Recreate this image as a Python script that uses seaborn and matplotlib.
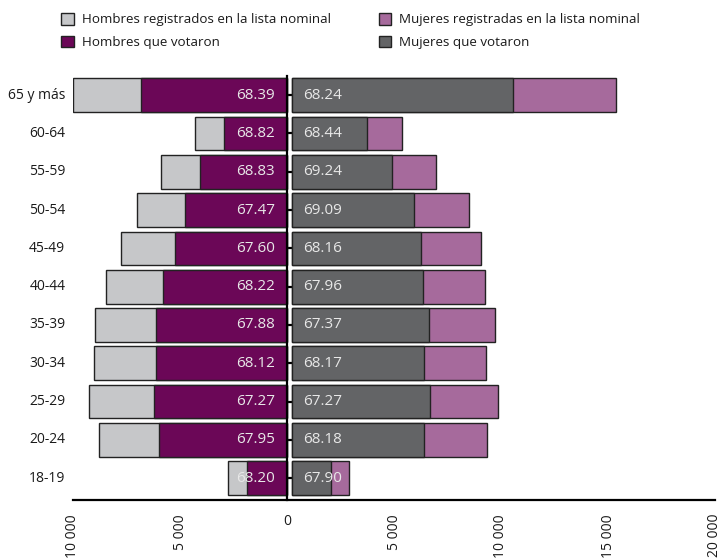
import numpy as np
import pandas as pd
import matplotlib
matplotlib.use("Agg")
import matplotlib.pyplot as plt
from matplotlib.patches import Patch
from matplotlib.transforms import blended_transform_factory
import seaborn as sns

# ---------------- data ----------------
categories = ["65 y más", "60-64", "55-59", "50-54", "45-49", "40-44",
              "35-39", "30-34", "25-29", "20-24", "18-19"]
hombres_registrados = [9986, 4299, 5874, 7023, 7743, 8472, 8986, 9005, 9238, 8771, 2743]
hombres_votaron = [6822, 2958, 4051, 4752, 5234, 5794, 6107, 6136, 6215, 5967, 1869]
mujeres_registradas = [15140, 5168, 6757, 8271, 8846, 9047, 9486, 9093, 9626, 9112, 2678]
mujeres_votaron = [10341, 3533, 4673, 5729, 6028, 6150, 6402, 6196, 6477, 6196, 1822]
pct_hombres = ["68.39", "68.82", "68.83", "67.47", "67.60", "68.22",
               "67.88", "68.12", "67.27", "67.95", "68.20"]
pct_mujeres = ["68.24", "68.44", "69.24", "69.09", "68.16", "67.96",
               "67.37", "68.17", "67.27", "68.18", "67.90"]
xticks = [-10000, -5000, 0, 5000, 10000, 15000, 20000]
xticklabels = ["10 000", "5 000", "0", "5 000", "10 000", "15 000", "20 000"]
legend_labels = ["Hombres registrados en la lista nominal", "Hombres que votaron",
                 "Mujeres registradas en la lista nominal", "Mujeres que votaron"]

# ---------------- style ----------------
sns.set_theme(style="white")
plt.rcParams["font.family"] = ["Open Sans", "DejaVu Sans"]

c_hr = "#C6C7C9"
c_hv = "#6B0757"
c_mr = "#A66A9C"
c_mv = "#636466"
edge = "#222222"
gap = 220  # small separation of the female side from the axis

df = pd.DataFrame({
    "cat": categories,
    "hr": -np.array(hombres_registrados),
    "hv": -np.array(hombres_votaron),
    "mr": np.array(mujeres_registradas),
    "mv": np.array(mujeres_votaron),
})

fig = plt.figure(figsize=(7.23, 5.58), dpi=100)
ax = fig.add_axes([73 / 723, 1 - 500 / 558, (715 - 73) / 723, (500 - 76) / 558])

bw = 0.88
common = dict(y="cat", order=categories, orient="h", errorbar=None,
              width=bw, edgecolor=edge, linewidth=1.0, saturation=1, ax=ax)
sns.barplot(data=df, x="hr", color=c_hr, **common)
sns.barplot(data=df, x="hv", color=c_hv, **common)
n_before = len(ax.patches)
sns.barplot(data=df, x="mr", color=c_mr, **common)
sns.barplot(data=df, x="mv", color=c_mv, **common)
for p in ax.patches[n_before:]:
    p.set_x(p.get_x() + gap)

ax.set_xlim(-10000, 20000)
ax.set_ylim(len(categories) - 1 + 0.57, -0.5)
ax.set_xlabel("")
ax.set_ylabel("")

# x axis
ax.set_xticks(xticks)
ax.set_xticklabels(xticklabels, fontsize=10, color="#1a1a1a")
for lab in ax.get_xticklabels():
    if lab.get_text() == "0":
        lab.set_rotation(0)
    else:
        lab.set_rotation(90)
    lab.set_va("top")
    lab.set_ha("center")
ax.tick_params(axis="x", direction="in", length=10, width=1.6, color="black", pad=10)

# central y axis
ax.spines["left"].set_position(("data", 0))
ax.spines["left"].set_linewidth(1.6)
ax.spines["left"].set_color("black")
ax.spines["bottom"].set_linewidth(1.6)
ax.spines["bottom"].set_color("black")
ax.spines["top"].set_visible(False)
ax.spines["right"].set_visible(False)
ax.tick_params(axis="y", direction="in", length=5, width=1.6, color="black",
               labelleft=False, left=True)

# category labels at the left
trans = blended_transform_factory(ax.transAxes, ax.transData)
for i, c in enumerate(categories):
    ax.text(-0.012, i, c, transform=trans, ha="right", va="center",
            fontsize=10, color="#1a1a1a")

# percentage labels
for i in range(len(categories)):
    ax.annotate(pct_hombres[i], xy=(0, i), xytext=(-8.5, 0), textcoords="offset points",
                ha="right", va="center", fontsize=11, color="#E8E8E8")
    ax.annotate(pct_mujeres[i], xy=(gap, i), xytext=(8, 0), textcoords="offset points",
                ha="left", va="center", fontsize=11, color="#E8E8E8")

# legend
handles = [Patch(facecolor=c_hr, edgecolor=edge, linewidth=1.0),
           Patch(facecolor=c_hv, edgecolor=edge, linewidth=1.0),
           Patch(facecolor=c_mr, edgecolor=edge, linewidth=1.0),
           Patch(facecolor=c_mv, edgecolor=edge, linewidth=1.0)]
fig.legend(handles, legend_labels, ncol=2, loc="upper left",
           bbox_to_anchor=(61 / 723, 1 - 13 / 558), frameon=False,
           fontsize=9.6, handlelength=0.95, handleheight=0.95, handletextpad=0.6,
           columnspacing=3.6, labelspacing=0.7, borderpad=0, borderaxespad=0,
           labelcolor="#1a1a1a")

fig.savefig("out.png", dpi=100)
